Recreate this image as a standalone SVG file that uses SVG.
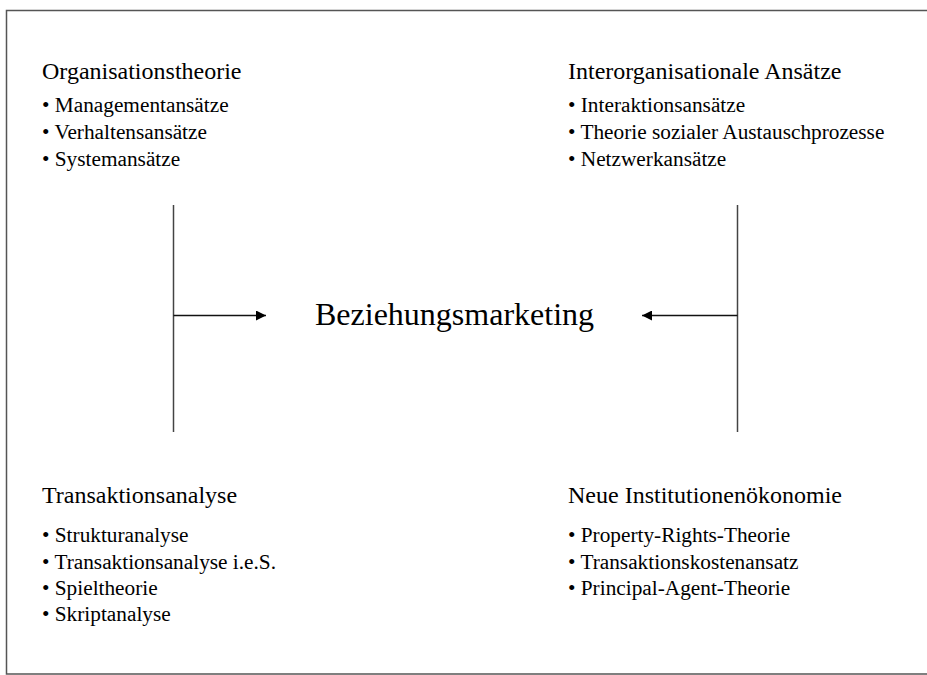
<svg xmlns="http://www.w3.org/2000/svg" width="927" height="675" viewBox="0 0 927 675">
  <style>
    text { font-family: "Liberation Serif", "Times New Roman", serif; fill: #000; }
    .head { font-size: 24px; }
    .item { font-size: 21.3px; }
    .center { font-size: 32px; }
    .frame { fill: none; stroke: #555; stroke-width: 1.5; }
    .bar { stroke: #444; stroke-width: 1.5; fill: none; }
    .arrow { stroke: #111; stroke-width: 1.5; fill: none; }
  </style>
  <defs>
    <marker id="head" viewBox="0 0 10 10" refX="10" refY="5" markerWidth="10" markerHeight="10" markerUnits="userSpaceOnUse" orient="auto">
      <path d="M0,0 L10,5 L0,10 Z" fill="#000"/>
    </marker>
  </defs>

  <rect width="927" height="675" fill="#fff"/>
  <!-- outer frame: open on the right side -->
  <path class="frame" d="M927,10.5 H6.5 V674 H927"/>

  <g id="organisationstheorie">
    <text class="head" x="42" y="79">Organisationstheorie</text>
    <text class="item" x="42" y="112">• Managementansätze</text>
    <text class="item" x="42" y="139">• Verhaltensansätze</text>
    <text class="item" x="42" y="166">• Systemansätze</text>
  </g>

  <g id="interorganisationale-ansaetze">
    <text class="head" x="568" y="79">Interorganisationale Ansätze</text>
    <text class="item" x="568" y="112">• Interaktionsansätze</text>
    <text class="item" x="568" y="139">• Theorie sozialer Austauschprozesse</text>
    <text class="item" x="568" y="166">• Netzwerkansätze</text>
  </g>

  <g id="transaktionsanalyse">
    <text class="head" x="42" y="503">Transaktionsanalyse</text>
    <text class="item" x="42" y="542">• Strukturanalyse</text>
    <text class="item" x="42" y="569">• Transaktionsanalyse i.e.S.</text>
    <text class="item" x="42" y="595">• Spieltheorie</text>
    <text class="item" x="42" y="621">• Skriptanalyse</text>
  </g>

  <g id="neue-institutionenoekonomie">
    <text class="head" x="568" y="503">Neue Institutionenökonomie</text>
    <text class="item" x="568" y="542">• Property-Rights-Theorie</text>
    <text class="item" x="568" y="569">• Transaktionskostenansatz</text>
    <text class="item" x="568" y="595">• Principal-Agent-Theorie</text>
  </g>

  <g id="beziehungsmarketing">
    <text class="center" x="315" y="325">Beziehungsmarketing</text>
  </g>

  <g id="connectors">
    <line class="bar" x1="173.5" y1="205" x2="173.5" y2="432"/>
    <line class="arrow" x1="173.5" y1="315.5" x2="266" y2="315.5" marker-end="url(#head)"/>
    <line class="bar" x1="737.5" y1="205" x2="737.5" y2="432"/>
    <line class="arrow" x1="737.5" y1="315.5" x2="642" y2="315.5" marker-end="url(#head)"/>
  </g>
</svg>
